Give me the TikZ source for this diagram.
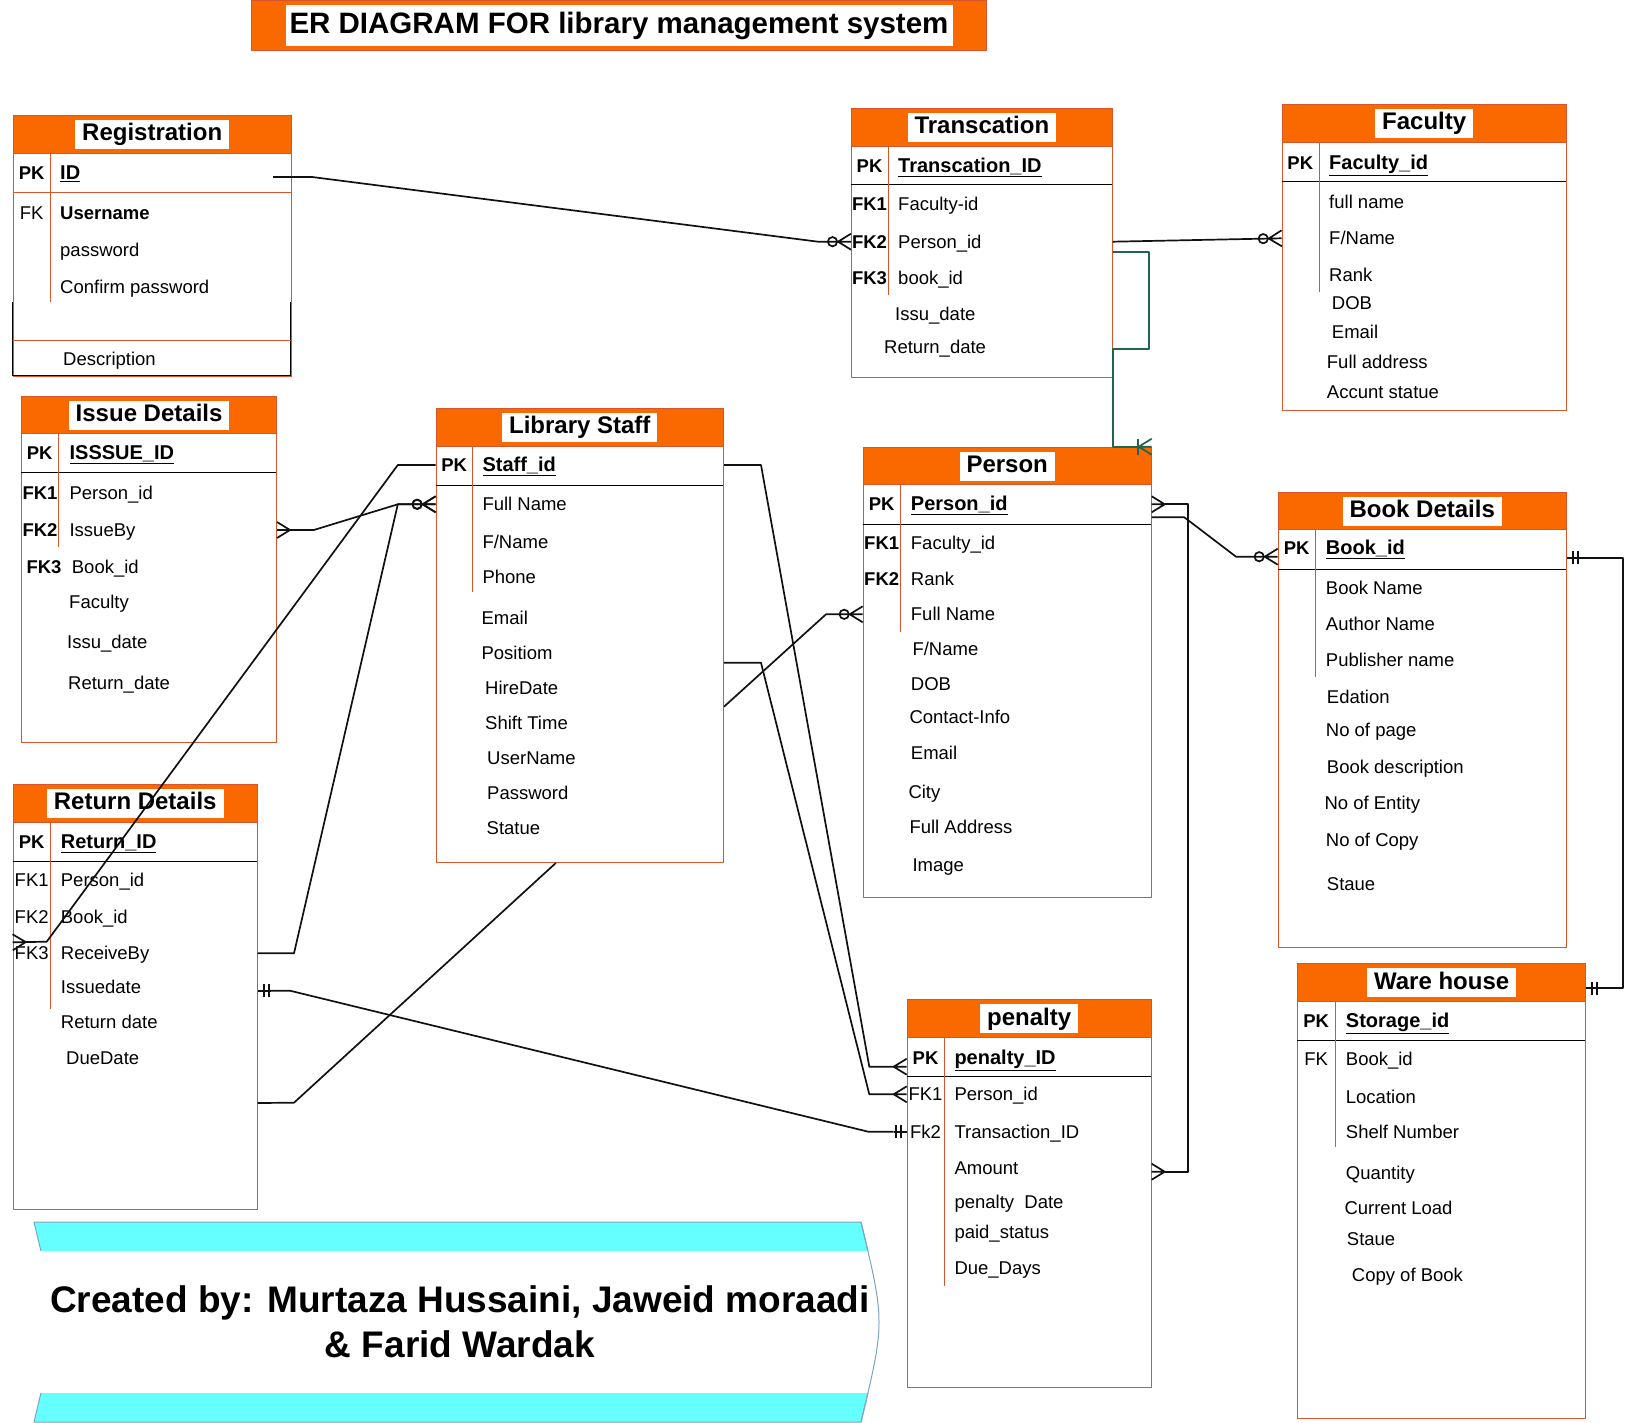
\documentclass[tikz,border=0pt]{standalone}
\usepackage{fontspec}
\setmainfont{Liberation Sans}
\usepackage{tikz}
\usetikzlibrary{arrows.meta}
\definecolor{erFill}{HTML}{FA6800}
\definecolor{erStroke}{HTML}{D4562A}
\definecolor{erLink}{HTML}{111111}
\definecolor{erGreen}{HTML}{22654F}
\definecolor{erBand}{HTML}{66FFFF}
\definecolor{erBandLine}{HTML}{7FA3C8}
% crow's foot and double bar ends
\pgfdeclarearrow{
  name=Crow,
  setup code={
    \pgfarrowssettipend{0pt}
    \pgfarrowssetbackend{-13pt}
    \pgfarrowssetlineend{-13pt}
  },
  drawing code={
    \pgfpathmoveto{\pgfqpoint{0pt}{8pt}}
    \pgfpathlineto{\pgfqpoint{-13pt}{0pt}}
    \pgfpathlineto{\pgfqpoint{0pt}{-8pt}}
    \pgfpathmoveto{\pgfqpoint{-13pt}{0pt}}
    \pgfpathlineto{\pgfqpoint{0pt}{0pt}}
    \pgfusepathqstroke
  }
}
\pgfdeclarearrow{
  name=Mustone,
  setup code={
    \pgfarrowssettipend{0pt}
    \pgfarrowssetbackend{-13pt}
    \pgfarrowssetlineend{-13pt}
  },
  drawing code={
    \pgfpathmoveto{\pgfqpoint{-6pt}{6.5pt}}
    \pgfpathlineto{\pgfqpoint{-6pt}{-6.5pt}}
    \pgfpathmoveto{\pgfqpoint{-11pt}{6.5pt}}
    \pgfpathlineto{\pgfqpoint{-11pt}{-6.5pt}}
    \pgfpathmoveto{\pgfqpoint{-13pt}{0pt}}
    \pgfpathlineto{\pgfqpoint{0pt}{0pt}}
    \pgfusepathqstroke
  }
}
\tikzset{
  er diagram/.style={font=\fontsize{18.5}{22}\selectfont, line join=round},
  er box/.style={draw=erStroke, line width=1pt, fill=white, anchor=north west, inner sep=0pt},
  er head/.style={er box, fill=erFill, minimum height=37.7pt},
  er title/.style={fill=white, inner xsep=7pt, inner ysep=3pt, text height=18pt, text depth=5pt,
    font=\fontsize{24}{28}\selectfont\bfseries},
  er rule/.style={draw=black, line width=1pt},
  er split/.style={draw=erStroke, line width=1pt},
  er key/.style={inner sep=0pt, text height=17pt, text depth=4pt,
    font=\fontsize{18.5}{22}\selectfont\bfseries},
  er fk/.style={er key, font=\fontsize{18.5}{22}\selectfont},
  er id/.style={er key, anchor=west, font=\fontsize{20}{24}\selectfont\bfseries},
  er attr/.style={anchor=west, inner sep=0pt, text height=17pt, text depth=4pt},
  er link/.style={draw=erLink, line width=1.7pt},
  er green/.style={draw=erGreen, line width=1.7pt, -{Bar[width=16pt]Crow}},
  zero many/.style={-{Circle[open,length=11pt]Crow}}
}

\begin{document}
\begin{tikzpicture}[er diagram, x=1pt, y=-1pt]
\path[use as bounding box, fill=white] (0,0) rectangle (1637,1423);

% heading
\node[er box, fill=erFill, minimum width=735pt, minimum height=50pt] (mainBar) at (251,0) {};
\node[er title, inner xsep=4pt, inner ysep=5pt, text height=24pt, text depth=7pt,
  font=\fontsize{29.5}{34}\selectfont\bfseries] (mainTitle) at (mainBar) {ER DIAGRAM FOR library management system};

% Registration
\node[er box, minimum width=278pt, minimum height=260.7pt] (reg) at (12.7,115) {};
\node[er head, minimum width=278pt] (regHead) at (reg.north west) {};
\node[er title] (regTitle) at (regHead) {Registration};
\draw[er split] (12.7,192.7) -- (290.7,192.7);
\draw[er split] (50.7,152.7) -- (50.7,302);
\draw[line width=1pt] (12.7,302) -- (12.7,375.7) -- (290.7,375.7) -- (290.7,302);
\draw[er split] (12.7,340) -- (290.7,340);
\node[er key] (regPK) at (31.7,173) {PK};
\node[er id] (regId) at (60,173) {\underline{ID}};
\node[er fk] (regFK) at (31.7,213) {FK};
\node[er attr, font=\fontsize{18.5}{22}\selectfont\bfseries] (regUser) at (60,213) {Username};
\node[er attr] (regPass) at (60,250) {password};
\node[er attr] (regConfirm) at (60,287) {Confirm password};
\node[er attr] (regDesc) at (63,359) {Description};

% Transcation
\node[er box, minimum width=260.7pt, minimum height=269pt] (trans) at (851,107.7) {};
\node[er head, minimum width=260.7pt, minimum height=38pt] (transHead) at (trans.north west) {};
\node[er title] (transTitle) at (transHead) {Transcation};
\draw[er rule] (851,185) -- (1111.7,185);
\draw[er split] (888,145.7) -- (888,295);
\node[er key] (transPK) at (869.5,166) {PK};
\node[er id] (transId) at (898,166) {\underline{Transcation\_ID}};
\node[er key] (transFK1) at (869.5,204) {FK1};
\node[er key] (transFK2) at (869.5,241.7) {FK2};
\node[er key] (transFK3) at (869.5,278) {FK3};
\node[er attr] (transFaculty) at (898,204) {Faculty-id};
\node[er attr] (transPerson) at (898,241.7) {Person\_id};
\node[er attr] (transBook) at (898,278) {book\_id};
\node[er attr] (transIssue) at (895,314) {Issu\_date};
\node[er attr] (transReturn) at (884,346.7) {Return\_date};

% Faculty
\node[er box, minimum width=284pt, minimum height=306pt] (fac) at (1281.7,104) {};
\node[er head, minimum width=284pt] (facHead) at (fac.north west) {};
\node[er title] (facTitle) at (facHead) {Faculty};
\draw[er rule] (1281.7,181.7) -- (1565.7,181.7);
\draw[er split] (1319,141.7) -- (1319,291.7);
\node[er key] (facPK) at (1300.3,162.7) {PK};
\node[er id] (facId) at (1329,162.7) {\underline{Faculty\_id}};
\node[er attr] (facFull) at (1329,201.7) {full name};
\node[er attr] (facFName) at (1329,238.3) {F/Name};
\node[er attr] (facRank) at (1329,275) {Rank};
\node[er attr] (facDOB) at (1331.7,303.3) {DOB};
\node[er attr] (facEmail) at (1331.7,332) {Email};
\node[er attr] (facAddr) at (1326.7,361.7) {Full address};
\node[er attr] (facStatus) at (1326.7,391.7) {Accunt statue};

% Issue Details
\node[er box, minimum width=254.8pt, minimum height=346pt] (issue) at (21.2,395.7) {};
\node[er head, minimum width=254.8pt] (issueHead) at (issue.north west) {};
\node[er title] (issueTitle) at (issueHead) {Issue Details};
\draw[er rule] (21.2,472.7) -- (276,472.7);
\draw[er split] (58,433.3) -- (58,547);
\node[er key] (issuePK) at (39.6,453.3) {PK};
\node[er id] (issueId) at (69.4,453.3) {\underline{ISSSUE\_ID}};
\node[er key] (issueFK1) at (40,492.7) {FK1};
\node[er key] (issueFK2) at (40,530) {FK2};
\node[er key] (issueFK3) at (44,566.7) {FK3};
\node[er attr] (issuePerson) at (69.4,492.7) {Person\_id};
\node[er attr] (issueBy) at (69.4,530) {IssueBy};
\node[er attr] (issueBook) at (71.7,566.7) {Book\_id};
\node[er attr] (issueFaculty) at (69,601.7) {Faculty};
\node[er attr] (issueDate) at (67,641.7) {Issu\_date};
\node[er attr] (issueReturn) at (68,682.7) {Return\_date};

% Library Staff
\node[er box, minimum width=287.4pt, minimum height=454.3pt] (staff) at (435.6,407.7) {};
\node[er head, minimum width=287.4pt, minimum height=38pt] (staffHead) at (staff.north west) {};
\node[er title] (staffTitle) at (staffHead) {Library Staff};
\draw[er rule] (435.6,485.7) -- (723,485.7);
\draw[er split] (472.9,445.7) -- (472.9,592.3);
\node[er key] (staffPK) at (454.2,465) {PK};
\node[er id] (staffId) at (482.3,465) {\underline{Staff\_id}};
\node[er attr] (staffFull) at (482.3,504.3) {Full Name};
\node[er attr] (staffFName) at (482.3,541.7) {F/Name};
\node[er attr] (staffPhone) at (482.3,576.7) {Phone};
\node[er attr] (staffEmail) at (481.4,618.3) {Email};
\node[er attr] (staffPos) at (481.4,653.3) {Positiom};
\node[er attr] (staffHire) at (485,688.3) {HireDate};
\node[er attr] (staffShift) at (485,723.3) {Shift Time};
\node[er attr] (staffUser) at (487,758.3) {UserName};
\node[er attr] (staffPass) at (487,793.3) {Password};
\node[er attr] (staffStatus) at (486.5,828) {Statue};

% Return Details
\node[er box, minimum width=244pt, minimum height=425pt] (ret) at (12.7,784) {};
\node[er head, minimum width=244pt] (retHead) at (ret.north west) {};
\node[er title] (retTitle) at (retHead) {Return Details};
\draw[er rule] (12.7,861.7) -- (256.7,861.7);
\draw[er split] (50.7,821.7) -- (50.7,1009.3);
\node[er key] (retPK) at (31.7,842.3) {PK};
\node[er id] (retId) at (60.7,842.3) {\underline{Return\_ID}};
\node[er fk] (retFK1) at (31.7,880) {FK1};
\node[er fk] (retFK2) at (31.7,916.7) {FK2};
\node[er fk] (retFK3) at (31.7,953.3) {FK3};
\node[er attr] (retPerson) at (60.7,880) {Person\_id};
\node[er attr] (retBook) at (60.7,916.7) {Book\_id};
\node[er attr] (retRecv) at (60.7,953.3) {ReceiveBy};
\node[er attr] (retIssue) at (60.7,986.7) {Issuedate};
\node[er attr] (retReturn) at (60.7,1021.7) {Return date};
\node[er attr] (retDue) at (66,1058.3) {DueDate};

% Person
\node[er box, minimum width=288pt, minimum height=450pt] (pers) at (862.7,446.7) {};
\node[er head, minimum width=288pt] (persHead) at (pers.north west) {};
\node[er title] (persTitle) at (persHead) {Person};
\draw[er rule] (862.7,524) -- (1150.7,524);
\draw[er split] (900.7,484.3) -- (900.7,631.7);
\node[er key] (persPK) at (881.7,504.3) {PK};
\node[er id] (persId) at (910.7,504.3) {\underline{Person\_id}};
\node[er key] (persFK1) at (881.7,543.3) {FK1};
\node[er key] (persFK2) at (881.7,579.3) {FK2};
\node[er attr] (persFaculty) at (910.7,543.3) {Faculty\_id};
\node[er attr] (persRank) at (910.7,579.3) {Rank};
\node[er attr] (persFull) at (910.7,614.3) {Full Name};
\node[er attr] (persFName) at (912.3,649.3) {F/Name};
\node[er attr] (persDOB) at (910.7,684.3) {DOB};
\node[er attr] (persContact) at (909.3,717.3) {Contact-Info};
\node[er attr] (persEmail) at (910.7,753.3) {Email};
\node[er attr] (persCity) at (908.3,791.7) {City};
\node[er attr] (persAddr) at (909.3,827.3) {Full Address};
\node[er attr] (persImage) at (912.3,865) {Image};

% Book Details
\node[er box, minimum width=288pt, minimum height=455pt] (book) at (1277.7,491.7) {};
\node[er head, minimum width=288pt] (bookHead) at (book.north west) {};
\node[er title] (bookTitle) at (bookHead) {Book Details};
\draw[er rule] (1277.7,569.3) -- (1565.7,569.3);
\draw[er split] (1315.7,529.3) -- (1315.7,676.7);
\node[er key] (bookPK) at (1296.7,548.3) {PK};
\node[er id] (bookId) at (1325.7,548.3) {\underline{Book\_id}};
\node[er attr] (bookName) at (1325.7,588.3) {Book Name};
\node[er attr] (bookAuthor) at (1325.7,624.3) {Author Name};
\node[er attr] (bookPub) at (1325.7,660) {Publisher name};
\node[er attr] (bookEd) at (1326.7,697.3) {Edation};
\node[er attr] (bookPages) at (1325.7,730) {No of page};
\node[er attr] (bookDesc) at (1326.7,766.7) {Book description};
\node[er attr] (bookEntity) at (1324.3,803.3) {No of Entity};
\node[er attr] (bookCopy) at (1325.7,840) {No of Copy};
\node[er attr] (bookStatus) at (1326.7,884.3) {Staue};

% Ware house
\node[er box, minimum width=287.7pt, minimum height=455pt] (ware) at (1297.3,963.3) {};
\node[er head, minimum width=287.7pt, minimum height=37.4pt] (wareHead) at (ware.north west) {};
\node[er title] (wareTitle) at (wareHead) {Ware house};
\draw[er rule] (1297.3,1040) -- (1585,1040);
\draw[er split] (1335,1000.7) -- (1335,1147.3);
\node[er key] (warePK) at (1316.2,1020.7) {PK};
\node[er id] (wareId) at (1345.7,1020.7) {\underline{Storage\_id}};
\node[er fk] (wareFK) at (1316.2,1059.3) {FK};
\node[er attr] (wareBook) at (1345.7,1059.3) {Book\_id};
\node[er attr] (wareLoc) at (1345.7,1096.7) {Location};
\node[er attr] (wareShelf) at (1345.7,1131.7) {Shelf Number};
\node[er attr] (wareQty) at (1345.7,1173.3) {Quantity};
\node[er attr] (wareLoad) at (1344.3,1208.3) {Current Load};
\node[er attr] (wareStatus) at (1346.7,1239.3) {Staue};
\node[er attr] (wareCopy) at (1351.7,1275) {Copy of Book};

% penalty
\node[er box, minimum width=244pt, minimum height=387.4pt] (pen) at (906.7,999.3) {};
\node[er head, minimum width=244pt, minimum height=37.4pt] (penHead) at (pen.north west) {};
\node[er title] (penTitle) at (penHead) {penalty};
\draw[er rule] (906.7,1076.7) -- (1150.7,1076.7);
\draw[er split] (944.3,1036.7) -- (944.3,1286);
\node[er key] (penPK) at (925.5,1057.7) {PK};
\node[er id] (penId) at (954.3,1057.7) {\underline{penalty\_ID}};
\node[er fk] (penFK1) at (925.5,1094.3) {FK1};
\node[er fk] (penFK2) at (925.5,1131.7) {Fk2};
\node[er attr] (penPerson) at (954.3,1094.3) {Person\_id};
\node[er attr] (penTrans) at (954.3,1131.7) {Transaction\_ID};
\node[er attr] (penAmount) at (954.3,1168.3) {Amount};
\node[er attr] (penDate) at (954.3,1201.7) {penalty\ \ Date};
\node[er attr] (penPaid) at (954.3,1231.7) {paid\_status};
\node[er attr] (penDue) at (954.3,1268.3) {Due\_Days};

% credits banner
\filldraw[fill=erBand, draw=erBandLine, line width=1pt] (34,1222) -- (861,1222)
  .. controls (885,1322) .. (861,1422) -- (34,1422) .. controls (58,1322) .. (34,1222) -- cycle;
\node[fill=white, minimum width=850pt, minimum height=142pt, align=center,
  inner sep=0pt, font=\fontsize{37}{45}\selectfont\bfseries] (credits) at (460,1322)
  {Created by: Murtaza Hussaini, Jaweid moraadi\\ \& Farid Wardak};
\draw[erBandLine, line width=1pt] (861,1222) .. controls (885,1322) .. (861,1422);

% relationships
\coordinate (regOut) at (273,177);
\draw[er link, zero many] (regOut) -- (312,177) -- (818,241.7) -- (trans.west |- transPerson);
\draw[er link, zero many] (trans.east |- transPerson) -- (fac.west |- facFName);
\draw[er green] ([yshift=-10pt]trans.east |- transPerson) -- (1149,251.7) |- (1113,349) |- (pers.north east);
\draw[er link, {Crow}-{Circle[open,length=11pt]Crow}] (issue.east |- issueBy) -- (313.8,530)
  -- (397.8,504.3) -- (staff.west |- staffFull);
\draw[er link, -{Crow}] (staff.west |- staffId) -- (397.8,465) -- (46.7,941.7)
  -- ([yshift=11pt]ret.west |- retRecv);
\draw[er link, zero many] (ret.east |- retRecv) -- (294,953.3) -- (397.8,504.3) -- (staff.west |- staffFull);
\draw[er link] ([yshift=-106pt]ret.east) -- (294,1102.7) -- ([xshift=-24pt]staff.south);
\draw[er link, {Mustone}-{Mustone}] ([yshift=-4pt]ret.east |- retIssue) -- (290,990.7)
  -- (868.3,1131.7) -- (pen.west |- penTrans);
\draw[er link, -{Crow}] (staff.east |- staffId) -- (761,465) -- (869.3,1066.7)
  -- ([yshift=-9pt]pen.west |- penId);
\draw[er link, -{Crow}] ([yshift=-9.4pt]staff.east |- staffPos) -- (761,662.7) -- (869.3,1094.3)
  -- (pen.west |- penPerson);
\draw[er link, zero many] ([yshift=-18.4pt]staff.east |- staffHire) -- (826,614.3) -- (pers.west |- persFull);
\draw[er link, {Crow}-{Crow}] (pers.east |- persId) -- (1188.3,504.3) |- ([yshift=-3.4pt]pen.east |- penAmount);
\draw[er link, zero many] ([yshift=-13pt]pers.east |- persId) -- (1184.3,517.3) -- (1236,556.7)
  -- ([yshift=-8.4pt]book.west |- bookId);
\draw[er link, {Mustone}-{Mustone}] ([yshift=-9.4pt]book.east |- bookId) -| (1623.3,988.3)
  -- ([yshift=-5.8pt]ware.east |- wareTitle);
\end{tikzpicture}
\end{document}
